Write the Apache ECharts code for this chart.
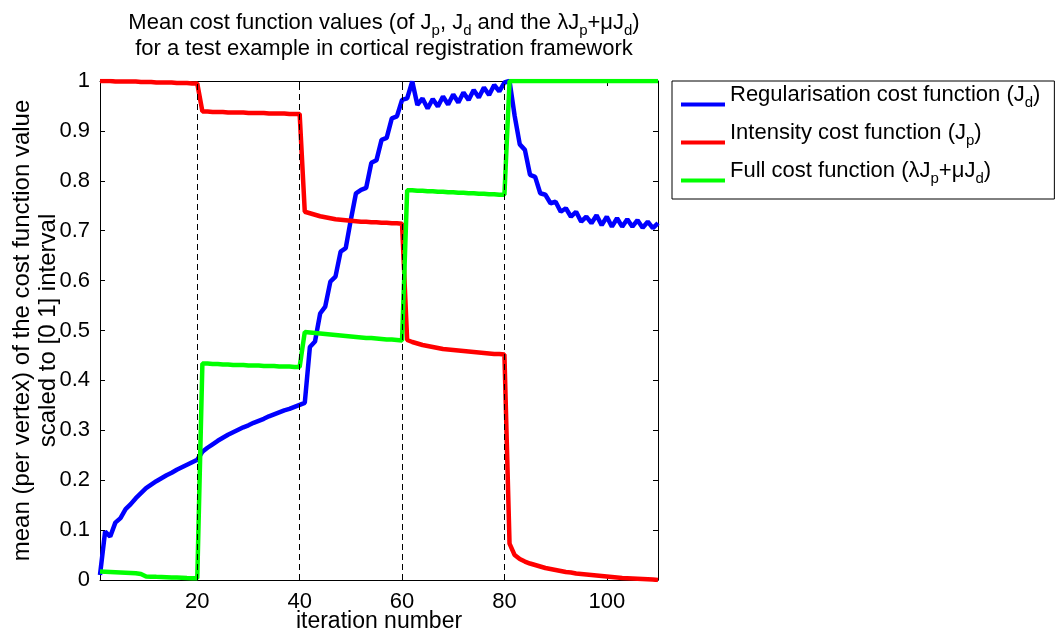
<!DOCTYPE html>
<html>
<head>
<meta charset="utf-8">
<title>Mean cost function values</title>
<script src="https://cdn.jsdelivr.net/npm/echarts@6/dist/echarts.min.js"></script>
<style>
  html, body { margin: 0; padding: 0; background: #fff; }
  #chart { width: 1062px; height: 635px; }
</style>
</head>
<body>
<div id="chart"></div>
<script>
// values, one per iteration (1..110)
var regularisationJd = [
  0.01, 0.097, 0.087, 0.115, 0.124, 0.142, 0.152, 0.164, 0.174, 0.184,
  0.191, 0.198, 0.204, 0.21, 0.215, 0.221, 0.226, 0.231, 0.236, 0.241,
  0.257, 0.265, 0.272, 0.279, 0.285, 0.291, 0.296, 0.301, 0.306, 0.31,
  0.315, 0.319, 0.323, 0.328, 0.332, 0.336, 0.34, 0.343, 0.347, 0.351,
  0.355, 0.467, 0.478, 0.534, 0.548, 0.598, 0.608, 0.658, 0.665, 0.722,
  0.775, 0.782, 0.786, 0.836, 0.841, 0.882, 0.886, 0.925, 0.929, 0.962,
  0.965, 0.999, 0.952, 0.965, 0.945, 0.964, 0.949, 0.969, 0.953, 0.973,
  0.957, 0.977, 0.962, 0.982, 0.967, 0.987, 0.972, 0.992, 0.979, 0.997,
  1.0, 0.93, 0.873, 0.862, 0.812, 0.808, 0.775, 0.772, 0.755, 0.758,
  0.738, 0.745, 0.728, 0.738, 0.718, 0.728, 0.715, 0.731, 0.711, 0.728,
  0.708, 0.725, 0.708, 0.723, 0.708, 0.721, 0.706, 0.718, 0.705, 0.715
];
var intensityJp = [
  1.0, 1.0, 1.0, 0.999, 0.999, 0.999, 0.999, 0.999, 0.998, 0.998,
  0.998, 0.997, 0.997, 0.997, 0.997, 0.996, 0.996, 0.996, 0.995, 0.995,
  0.939, 0.939, 0.938, 0.938, 0.938, 0.937, 0.937, 0.937, 0.937, 0.936,
  0.936, 0.936, 0.936, 0.935, 0.935, 0.935, 0.935, 0.934, 0.934, 0.934,
  0.738, 0.735, 0.732, 0.729, 0.727, 0.725, 0.723, 0.722, 0.721, 0.72,
  0.719, 0.718, 0.718, 0.717, 0.717, 0.716, 0.716, 0.715, 0.715, 0.714,
  0.481, 0.477, 0.474, 0.471, 0.469, 0.467, 0.465, 0.463, 0.462, 0.461,
  0.46, 0.459, 0.458, 0.457, 0.456, 0.455, 0.454, 0.453, 0.453, 0.452,
  0.073, 0.05, 0.042, 0.037, 0.033, 0.03, 0.027, 0.024, 0.022, 0.02,
  0.018, 0.016, 0.015, 0.013, 0.012, 0.011, 0.01, 0.009, 0.008, 0.007,
  0.006, 0.005, 0.004, 0.0035, 0.003, 0.0025, 0.002, 0.0015, 0.001, 0.0
];
var fullCost = [
  0.017, 0.0165, 0.016, 0.0155, 0.015, 0.0145, 0.014, 0.0135, 0.012, 0.007,
  0.0067, 0.0063, 0.006, 0.0056, 0.0052, 0.0048, 0.0044, 0.004, 0.0037, 0.0034,
  0.434, 0.434, 0.433, 0.433, 0.432, 0.432, 0.431, 0.431, 0.431, 0.43,
  0.43, 0.43, 0.429, 0.429, 0.429, 0.428, 0.428, 0.428, 0.427, 0.427,
  0.497, 0.496, 0.495, 0.494, 0.493, 0.492, 0.491, 0.49, 0.489, 0.488,
  0.487, 0.486, 0.485, 0.485, 0.484, 0.483, 0.482, 0.482, 0.481, 0.48,
  0.781, 0.781, 0.78, 0.78, 0.779, 0.779, 0.778, 0.778, 0.777, 0.777,
  0.776, 0.776, 0.775, 0.775, 0.774, 0.774, 0.773, 0.773, 0.772, 0.772,
  1.0, 1.0, 1.0, 1.0, 1.0, 1.0, 1.0, 1.0, 1.0, 1.0,
  1.0, 1.0, 1.0, 1.0, 1.0, 1.0, 1.0, 1.0, 1.0, 1.0,
  1.0, 1.0, 1.0, 1.0, 1.0, 1.0, 1.0, 1.0, 1.0, 1.0
];
var xTicks = [20, 40, 60, 80, 100];
var stageBreaks = [20, 40, 60, 80]; // dashed lines
var seriesNames = ['Regularisation cost function (J_d)', 'Intensity cost function (J_p)', 'Full cost function (\u03bbJ_p+\u03bcJ_d)'];

var FONT = '"Liberation Sans", Arial, Helvetica, sans-serif';

// pair values with iteration number
function toPoints(vals) {
  return vals.map(function (v, i) { return [i + 1, v]; });
}

// "J_p" -> rich text with subscript
function subText(str) {
  var out = '';
  var parts = str.split(/_(\w)/);
  for (var i = 0; i < parts.length; i++) {
    if (parts[i] === '') continue;
    out += (i % 2 ? '{s|' : '{n|') + parts[i] + '}';
  }
  return out;
}

var richStyle = function (size, subSize, subDrop) {
  return {
    n: { fontSize: size, fontFamily: FONT, fontWeight: 'normal', color: '#000', lineHeight: size + 4, verticalAlign: 'top' },
    s: { fontSize: subSize, fontFamily: FONT, fontWeight: 'normal', color: '#000', lineHeight: subSize, verticalAlign: 'bottom', padding: [subDrop, 0, 0, 0] }
  };
};

var dom = document.getElementById('chart');
var myChart = echarts.init(dom);
var option = {
  animation: false,
  backgroundColor: '#fff',
  title: {
    text: subText('Mean cost function values (of J_p, J_d and the \u03bbJ_p+\u03bcJ_d)') + '\n' +
      '{n|for a test example in cortical registration framework}',
    left: 379,
    textAlign: 'center',
    top: 7,
    textStyle: { fontWeight: 'normal', rich: richStyle(22, 15, 16) }
  },
  legend: {
    orient: 'vertical',
    left: 672,
    top: 81,
    data: seriesNames,
    icon: 'rect',
    itemWidth: 44,
    itemHeight: 4,
    itemGap: 9,
    padding: [0, 14, 13, 9],
    borderColor: '#000',
    borderWidth: 1,
    formatter: function (name) { return subText(name); },
    textStyle: { padding: [0, 0, 15, 0], rich: richStyle(22, 15, 14) }
  },
  grid: { left: 100, right: 404, top: 81, bottom: 55, outerBoundsMode: 'none' },
  xAxis: [{
    type: 'value', min: 1, max: 110, position: 'bottom',
    name: 'iteration number', nameLocation: 'middle', nameGap: 30, nameMoveOverlap: false,
    nameTextStyle: { fontSize: 23, fontFamily: FONT, color: '#000' },
    axisLine: { onZero: false, lineStyle: { color: '#000', width: 1 } },
    axisTick: { inside: true, length: 5, customValues: xTicks, lineStyle: { color: '#000' } },
    axisLabel: { customValues: xTicks, fontSize: 22, fontFamily: FONT, color: '#000', margin: 11 },
    splitLine: { show: false }
  }, {
    type: 'value', min: 1, max: 110, position: 'top',
    axisLine: { onZero: false, lineStyle: { color: '#000', width: 1 } },
    axisTick: { inside: true, length: 5, customValues: xTicks, lineStyle: { color: '#000' } },
    axisLabel: { show: false },
    splitLine: { show: false }
  }],
  yAxis: [{
    type: 'value', min: 0, max: 1, interval: 0.1, position: 'left',
    name: 'mean (per vertex) of the cost function value\nscaled to [0 1] interval',
    nameLocation: 'middle', nameGap: 39, nameRotate: 90, nameMoveOverlap: false,
    nameTextStyle: { fontSize: 24, fontFamily: FONT, color: '#000', lineHeight: 26 },
    axisLine: { onZero: false, lineStyle: { color: '#000', width: 1 } },
    axisTick: { inside: true, length: 5, lineStyle: { color: '#000' } },
    axisLabel: { fontSize: 22, fontFamily: FONT, color: '#000', margin: 10 },
    splitLine: { show: false }
  }, {
    type: 'value', min: 0, max: 1, interval: 0.1, position: 'right',
    axisLine: { onZero: false, lineStyle: { color: '#000', width: 1 } },
    axisTick: { inside: true, length: 5, lineStyle: { color: '#000' } },
    axisLabel: { show: false },
    splitLine: { show: false }
  }],
  series: [{
    // dashed stage separators, drawn first so the curves sit on top
    name: 'stages', type: 'line', data: [], silent: true,
    markLine: {
      silent: true, symbol: 'none', label: { show: false },
      lineStyle: { color: '#000', width: 1, type: [6, 4] },
      data: stageBreaks.map(function (x) { return { xAxis: x }; })
    }
  }, {
    name: seriesNames[0], type: 'line', data: toPoints(regularisationJd),
    showSymbol: false, lineStyle: { color: '#0000ff', width: 4.5 }, itemStyle: { color: '#0000ff' }
  }, {
    name: seriesNames[1], type: 'line', data: toPoints(intensityJp),
    showSymbol: false, lineStyle: { color: '#ff0000', width: 4.5 }, itemStyle: { color: '#ff0000' }
  }, {
    name: seriesNames[2], type: 'line', data: toPoints(fullCost),
    showSymbol: false, lineStyle: { color: '#00ff00', width: 4.5 }, itemStyle: { color: '#00ff00' }
  }]
};
if (option && typeof option === 'object') {
  myChart.setOption(option, true);
}
</script>
</body>
</html>
